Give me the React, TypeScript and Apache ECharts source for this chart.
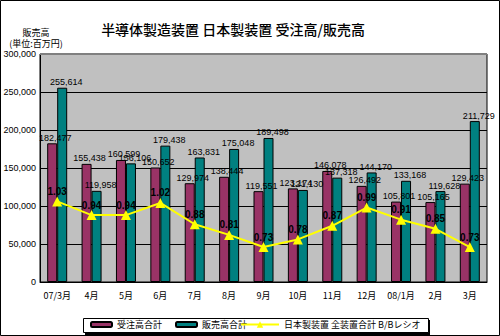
import React, { useEffect, useRef } from "react";
import * as echarts from "echarts";

const categories = ["07/3月", "4月", "5月", "6月", "7月", "8月", "9月", "10月", "11月", "12月", "08/1月", "2月", "3月"];
const orders = [182477, 155438, 160599, 150652, 129974, 138444, 119551, 123174, 146078, 126492, 105801, 105165, 129423];
const sales = [255614, 119958, 156106, 179438, 163831, 175048, 189498, 121130, 137318, 144170, 133168, 119628, 211729];
const bbRatio = [1.03, 0.94, 0.94, 1.02, 0.88, 0.81, 0.73, 0.78, 0.87, 0.99, 0.91, 0.85, 0.73];
const yTicks = [0, 50000, 100000, 150000, 200000, 250000, 300000];

const titleText = "半導体製造装置 日本製装置 受注高/販売高";
const seriesNames = ["受注高合計", "販売高合計", "日本製装置 全装置合計 B/Bレシオ"];

const fmt = (v: number) => String(v).replace(/\B(?=(\d{3})+(?!\d))/g, ",");
const FONT = "'Liberation Sans', 'Noto Sans CJK JP', sans-serif";
const CJK = "'Noto Sans CJK JP', sans-serif";

export default function App() {
  const ref = useRef<HTMLDivElement>(null);
  useEffect(() => {
    if (!ref.current) return;
    const chart = echarts.init(ref.current, undefined, { renderer: "svg" });
    const legendBase = {
      top: 320,
      itemGap: 0,
      textStyle: { fontSize: 9, color: "#000", fontFamily: CJK, padding: [0, 0, 0, 0] },
      padding: 0,
    };
    chart.setOption({
      animation: false,
      backgroundColor: "#ffffff",
      textStyle: { fontFamily: FONT },
      grid: {
        left: 40,
        right: 13,
        top: 54,
        bottom: 54,
        show: true,
        backgroundColor: "#c0c0c0",
        borderColor: "#000",
        borderWidth: 1,
        containLabel: false,
      },
      xAxis: {
        type: "category",
        data: categories,
        boundaryGap: true,
        axisLine: { lineStyle: { color: "#000", width: 1 } },
        axisTick: { show: false },
        axisLabel: { color: "#000", fontSize: 9, margin: 9, fontFamily: CJK, interval: 0 },
        splitLine: { show: false },
      },
      yAxis: [
        {
          type: "value",
          min: yTicks[0],
          max: yTicks[yTicks.length - 1],
          interval: 50000,
          axisLine: { show: true, lineStyle: { color: "#000" } },
          axisTick: { show: false },
          axisLabel: { color: "#000", fontSize: 9, margin: 4, formatter: (v: number) => fmt(v) },
          splitLine: { show: true, lineStyle: { color: "#000", width: 1 } },
        },
        {
          type: "value",
          min: 0.5,
          max: 2.0,
          show: false,
          splitLine: { show: false },
        },
      ],
      legend: [
        { ...legendBase, left: 90, data: [seriesNames[0]], itemWidth: 21, itemHeight: 5 },
        { ...legendBase, left: 175, data: [seriesNames[1]], itemWidth: 21, itemHeight: 5 },
        { ...legendBase, left: 240, data: [seriesNames[2]], itemWidth: 38, itemHeight: 8 },
      ],
      graphic: [
        { type: "rect", shape: { x: 0.5, y: 0.5, width: 499, height: 335 }, style: { fill: "none", stroke: "#000", lineWidth: 1 }, z: 100 },
        { type: "rect", shape: { x: 85, y: 320, width: 345, height: 15 }, style: { fill: "#000" }, z: -1 },
        { type: "rect", shape: { x: 83.5, y: 318.5, width: 345, height: 14 }, style: { fill: "#fff", stroke: "#000", lineWidth: 1 }, z: 0 },
        { type: "line", shape: { x1: 40, y1: 54, x2: 487, y2: 54 }, style: { stroke: "#808080", lineWidth: 2 }, z: 50 },
        {
          type: "text",
          x: 233,
          y: 29,
          style: { text: titleText, fontSize: 14, fontFamily: CJK, fontWeight: 500, fill: "#000", align: "center", verticalAlign: "middle" },
        },
        {
          type: "text",
          x: 36,
          y: 32,
          style: { text: "販売高", fontSize: 9, fontFamily: CJK, fill: "#000", align: "center", verticalAlign: "middle" },
        },
        {
          type: "text",
          x: 36,
          y: 43,
          style: { text: "(単位:百万円)", fontSize: 9, fontFamily: CJK, fill: "#000", align: "center", verticalAlign: "middle" },
        },
      ],
      series: [
        {
          name: seriesNames[0],
          type: "bar",
          data: orders,
          barWidth: 10,
          barGap: "0%",
          itemStyle: { color: "#993366", borderColor: "#000", borderWidth: 1 },
          label: { show: true, position: "top", distance: 1, offset: [3, 0], fontSize: 9, color: "#000", formatter: (p: any) => fmt(p.value) },
        },
        {
          name: seriesNames[1],
          type: "bar",
          data: sales,
          barWidth: 10,
          barGap: "0%",
          itemStyle: { color: "#008080", borderColor: "#000", borderWidth: 1 },
          label: { show: true, position: "top", distance: 1, offset: [4, 0], fontSize: 9, color: "#000", formatter: (p: any) => fmt(p.value) },
        },
        {
          name: seriesNames[2],
          type: "line",
          yAxisIndex: 1,
          data: bbRatio,
          symbol: "triangle",
          symbolSize: 10,
          lineStyle: { color: "#ffff00", width: 2 },
          itemStyle: { color: "#ffff00" },
          z: 10,
          label: { show: true, position: "top", distance: 0, fontSize: 10, fontWeight: "bold", color: "#000", formatter: (p: any) => Number(p.value).toFixed(2) },
        },
      ],
    });
    return () => chart.dispose();
  }, []);
  return <div ref={ref} style={{ position: "absolute", left: 0, top: 0, width: 500, height: 336 }} />;
}
